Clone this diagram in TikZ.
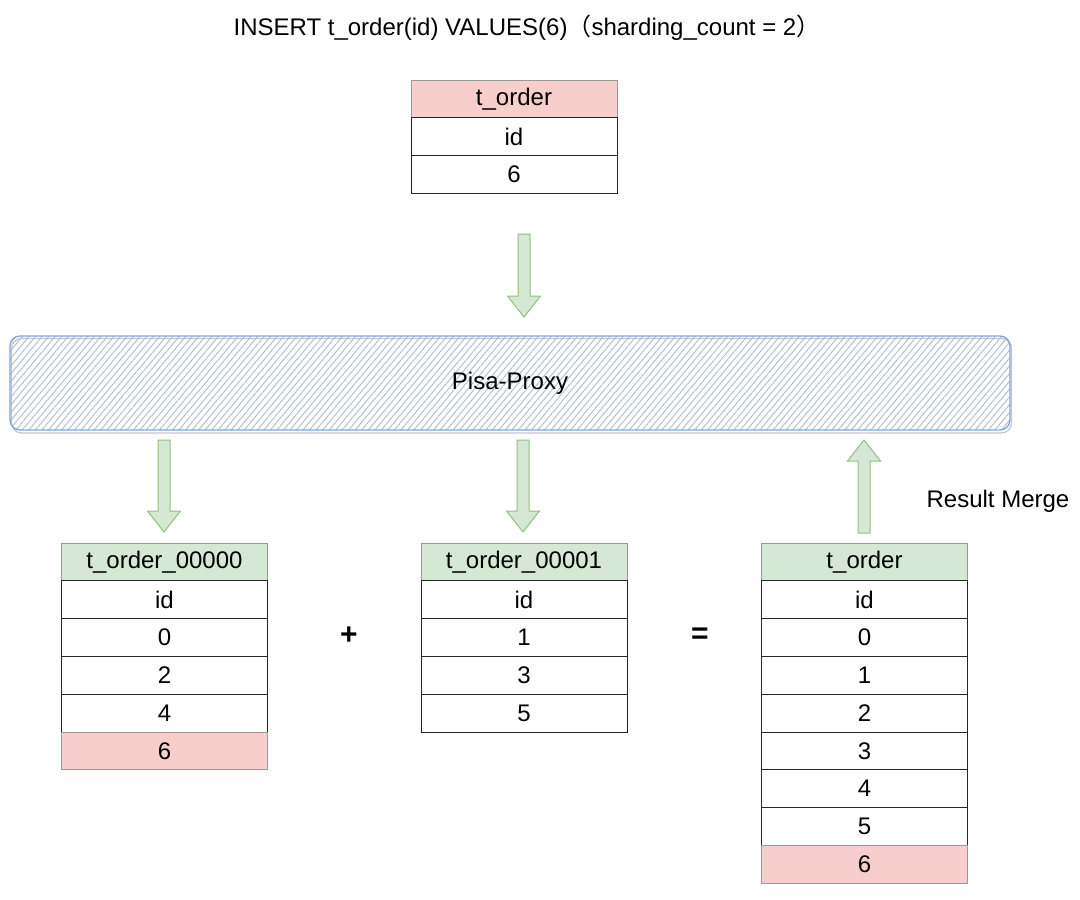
\documentclass[tikz,border=0pt]{standalone}
\usepackage{fontspec}
\setmainfont{Liberation Sans}
\newfontfamily\cjk{Noto Sans CJK SC}
\usetikzlibrary{patterns.meta,calc}
\definecolor{pinkf}{HTML}{F8CECC}
\definecolor{greenf}{HTML}{D5E8D4}
\definecolor{greens}{HTML}{93BF80}
\definecolor{blues}{HTML}{7EA6E0}
\definecolor{hatchc}{HTML}{A9BCD3}
\definecolor{proxyf}{HTML}{F3F6FB}
\newcommand\blockarrow[2]{%
  \path[barrow] let \p1=(#1), \p2=(#2), \n1={sign(\y1-\y2)} in
    ({\x1-6pt},\y1) -- ({\x1+6pt},\y1) -- ({\x1+6pt},{\y2+(\n1)*21pt})
    -- ({\x1+16.5pt},{\y2+(\n1)*21pt}) -- (\x2,\y2)
    -- ({\x1-16.5pt},{\y2+(\n1)*21pt}) -- ({\x1-6pt},{\y2+(\n1)*21pt}) -- cycle;}
\begin{document}
\begin{tikzpicture}[x=1pt,y=-1pt,
  txt/.style={font=\fontsize{24}{28}\selectfont},
  cell/.style={txt, draw=black!85, line width=0.8pt, minimum width=206,
    minimum height=37.8, inner sep=0pt, outer sep=0pt, anchor=north, fill=white},
  pinkhdr/.style={fill=pinkf, draw=black!40},
  greenhdr/.style={fill=greenf, draw=black!40},
  barrow/.style={draw=greens, fill=greenf, line width=1pt, line join=miter},
  proxy/.style={txt, rounded corners=10pt, minimum width=1000, minimum height=94,
    inner sep=0pt},
  sym/.style={font=\fontsize{30}{32}\selectfont\bfseries},
]
\useasboundingbox (0,0) rectangle (1080,900);

% title
\node[txt] (title) at (527,28) {INSERT t\_order(id) VALUES(6){\cjk（}sharding\_count = 2{\cjk）}};

% top table
\node[cell,pinkhdr] (q0) at (514,80) {t\_order};
\node[cell] (q1) at (q0.south) {id};
\node[cell] (q2) at (q1.south) {6};

% proxy
\path[draw=gray!45, line width=1.2pt, rounded corners=10pt] (11.5,338.5) rectangle (1011.5,433);
\node[proxy, fill=proxyf, pattern={Lines[angle=50,distance=5pt,line width=0.9pt]},
  pattern color=hatchc] (pbg) at (510,383) {};
\node[proxy, draw=blues, line width=1.3pt] (proxy) at (510,383) {Pisa-Proxy};

% bottom left table
\node[cell,greenhdr] (l0) at (164.5,543) {t\_order\_00000};
\node[cell] (l1) at (l0.south) {id};
\node[cell] (l2) at (l1.south) {0};
\node[cell] (l3) at (l2.south) {2};
\node[cell] (l4) at (l3.south) {4};
\node[cell,pinkhdr] (l5) at (l4.south) {6};

% bottom middle table
\node[cell,greenhdr] (m0) at (524,543) {t\_order\_00001};
\node[cell] (m1) at (m0.south) {id};
\node[cell] (m2) at (m1.south) {1};
\node[cell] (m3) at (m2.south) {3};
\node[cell] (m4) at (m3.south) {5};

% bottom right table
\node[cell,greenhdr] (r0) at (864.5,543) {t\_order};
\node[cell] (r1) at (r0.south) {id};
\node[cell] (r2) at (r1.south) {0};
\node[cell] (r3) at (r2.south) {1};
\node[cell] (r4) at (r3.south) {2};
\node[cell] (r5) at (r4.south) {3};
\node[cell] (r6) at (r5.south) {4};
\node[cell] (r7) at (r6.south) {5};
\node[cell,pinkhdr] (r8) at (r7.south) {6};

% symbols and label
\node[sym] (plus) at (349,636) {+};
\node[sym] (eq) at (700,636) {=};
\node[txt] (merge) at (998,501) {Result Merge};

% arrows
\coordinate (a1s) at (524,234);
\coordinate (a1e) at (524,317);
\coordinate (a2s) at (164,440);
\coordinate (a2e) at (164,532);
\coordinate (a3s) at (523,440);
\coordinate (a3e) at (523,532);
\coordinate (a4s) at (864,533);
\coordinate (a4e) at (864,440);
\blockarrow{a1s}{a1e}
\blockarrow{a2s}{a2e}
\blockarrow{a3s}{a3e}
\blockarrow{a4s}{a4e}
\end{tikzpicture}
\end{document}
